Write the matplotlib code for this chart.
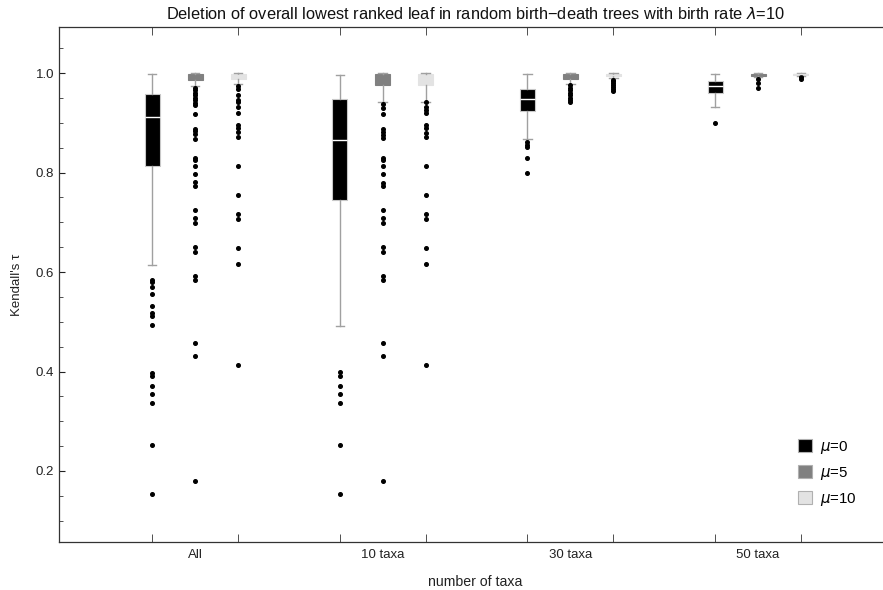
import matplotlib
matplotlib.use("Agg")
import matplotlib.pyplot as plt
from matplotlib.patches import Patch

plt.rcParams['font.family'] = ['Liberation Sans', 'DejaVu Sans']

# groups on the x axis and the three death rates
groups = ['All', '10 taxa', '30 taxa', '50 taxa']
mu_labels = ['$\\mu$=0', '$\\mu$=5', '$\\mu$=10']
mu_colors = ['#000000', '#808080', '#e3e3e3']
median_colors = ['#ffffff', '#808080', '#e3e3e3']

# box statistics per group, per mu: (whislo, q1, med, q3, whishi)
stats_mu0 = [
    (0.615, 0.813, 0.912, 0.958, 0.998),
    (0.492, 0.745, 0.865, 0.948, 0.997),
    (0.867, 0.924, 0.948, 0.968, 0.998),
    (0.932, 0.959, 0.973, 0.984, 0.999),
]
stats_mu5 = [
    (0.974, 0.987, 0.995, 0.999, 1.000),
    (0.941, 0.976, 0.992, 0.999, 1.000),
    (0.978, 0.989, 0.995, 0.999, 1.000),
    (0.993, 0.995, 0.997, 0.999, 1.000),
]
stats_mu10 = [
    (0.977, 0.989, 0.996, 0.999, 1.000),
    (0.941, 0.976, 0.993, 0.999, 1.000),
    (0.991, 0.994, 0.997, 0.999, 1.000),
    (0.994, 0.996, 0.998, 0.999, 1.000),
]

# outliers
fliers_mu0 = [
    [0.584, 0.579, 0.569, 0.556, 0.532, 0.518, 0.511, 0.494, 0.397, 0.391,
     0.371, 0.355, 0.336, 0.252, 0.154],
    [0.398, 0.391, 0.371, 0.355, 0.336, 0.252, 0.154],
    [0.861, 0.855, 0.852, 0.830, 0.800],
    [0.900],
]
fliers_mu5 = [
    [0.970, 0.965, 0.960, 0.955, 0.950, 0.945, 0.940, 0.936, 0.918, 0.887,
     0.883, 0.877, 0.867, 0.830, 0.825, 0.813, 0.798, 0.780, 0.773, 0.724,
     0.708, 0.699, 0.650, 0.640, 0.591, 0.583, 0.457, 0.431, 0.179],
    [0.937, 0.929, 0.918, 0.887, 0.882, 0.876, 0.869, 0.830, 0.825, 0.813,
     0.798, 0.778, 0.773, 0.724, 0.708, 0.699, 0.650, 0.640, 0.591, 0.583,
     0.457, 0.431, 0.179],
    [0.975, 0.970, 0.965, 0.960, 0.955, 0.950, 0.945, 0.941],
    [0.988, 0.979, 0.970],
]
fliers_mu10 = [
    [0.974, 0.967, 0.956, 0.946, 0.942, 0.931, 0.920, 0.895, 0.889, 0.881,
     0.871, 0.813, 0.755, 0.717, 0.706, 0.649, 0.617, 0.414],
    [0.942, 0.932, 0.926, 0.919, 0.895, 0.889, 0.880, 0.871, 0.813, 0.755,
     0.717, 0.706, 0.649, 0.617, 0.414],
    [0.987, 0.983, 0.979, 0.975, 0.971, 0.967, 0.964],
    [0.993, 0.989],
]

all_stats = [stats_mu0, stats_mu5, stats_mu10]
all_fliers = [fliers_mu0, fliers_mu5, fliers_mu10]

fig = plt.figure(figsize=(8.83, 5.90), dpi=100)
ax = fig.add_axes([0.0668, 0.0814, 0.9332, 0.8728])

offset = 0.229
width = 0.08
minor_pos = []
for k in range(3):
    bxp_stats = []
    positions = []
    for g in range(len(groups)):
        lo, q1, med, q3, hi = all_stats[k][g]
        bxp_stats.append({'whislo': lo, 'q1': q1, 'med': med, 'q3': q3,
                          'whishi': hi, 'fliers': all_fliers[k][g]})
        positions.append(g + 1 + (k - 1) * offset)
    minor_pos += positions
    edge = '#c8c8c8' if k == 0 else mu_colors[k]
    ax.bxp(bxp_stats, positions=positions, widths=width, patch_artist=True,
           showfliers=True,
           boxprops=dict(facecolor=mu_colors[k], edgecolor=edge, linewidth=0.8),
           medianprops=dict(color=median_colors[k], linewidth=1.0),
           whiskerprops=dict(color='#a0a0a0', linewidth=1.0),
           capprops=dict(color='#a0a0a0', linewidth=1.0),
           capwidths=0.045,
           flierprops=dict(marker='o', markerfacecolor='black',
                           markeredgecolor='black', markersize=2.6))

ax.set_xlim(0.275, 4.666)
ax.set_ylim(0.0573, 1.0925)

ax.set_xticks([1, 2, 3, 4])
ax.set_xticklabels(groups)
ax.set_xticks(sorted(minor_pos), minor=True)
ax.set_yticks([0.2, 0.4, 0.6, 0.8, 1.0])
ax.set_yticks([0.05 * i for i in range(2, 22)], minor=True)
ax.yaxis.set_major_formatter(matplotlib.ticker.FormatStrFormatter('%.1f'))

ax.tick_params(axis='x', which='major', direction='in', length=0, top=False,
               labelsize=9.5, pad=5, colors='#222222')
ax.tick_params(axis='x', which='minor', direction='in', length=5.5, top=True,
               color='#333333')
ax.tick_params(axis='y', which='major', direction='in', length=4.5,
               labelsize=9.5, colors='#222222')
ax.tick_params(axis='y', which='minor', direction='in', length=3,
               color='#333333')
ax.tick_params(axis='y', which='both', right=False)

for side in ['left', 'bottom', 'top']:
    ax.spines[side].set_color('#333333')
    ax.spines[side].set_linewidth(0.9)
ax.spines['right'].set_visible(False)

ax.set_title('Deletion of overall lowest ranked leaf in random birth\u2212death trees with birth rate $\\lambda$=10',
             fontsize=11.8, color='#111111', pad=6, x=0.505)
ax.set_xlabel('number of taxa', fontsize=10.2, color='#222222')
ax.set_ylabel("Kendall's \u03c4", fontsize=9.5, color='#222222')
ax.xaxis.set_label_coords(0.505, -0.064)
ax.yaxis.set_label_coords(-0.044, 0.5)

handles = [Patch(facecolor=c, edgecolor='#b0b0b0', linewidth=0.8) for c in mu_colors]
ax.legend(handles, mu_labels, loc='lower right', bbox_to_anchor=(0.985, 0.04),
          frameon=False, fontsize=10.8, handlelength=0.95, handleheight=0.95,
          labelspacing=0.6, handletextpad=0.55)

fig.savefig('out.png', dpi=100)
